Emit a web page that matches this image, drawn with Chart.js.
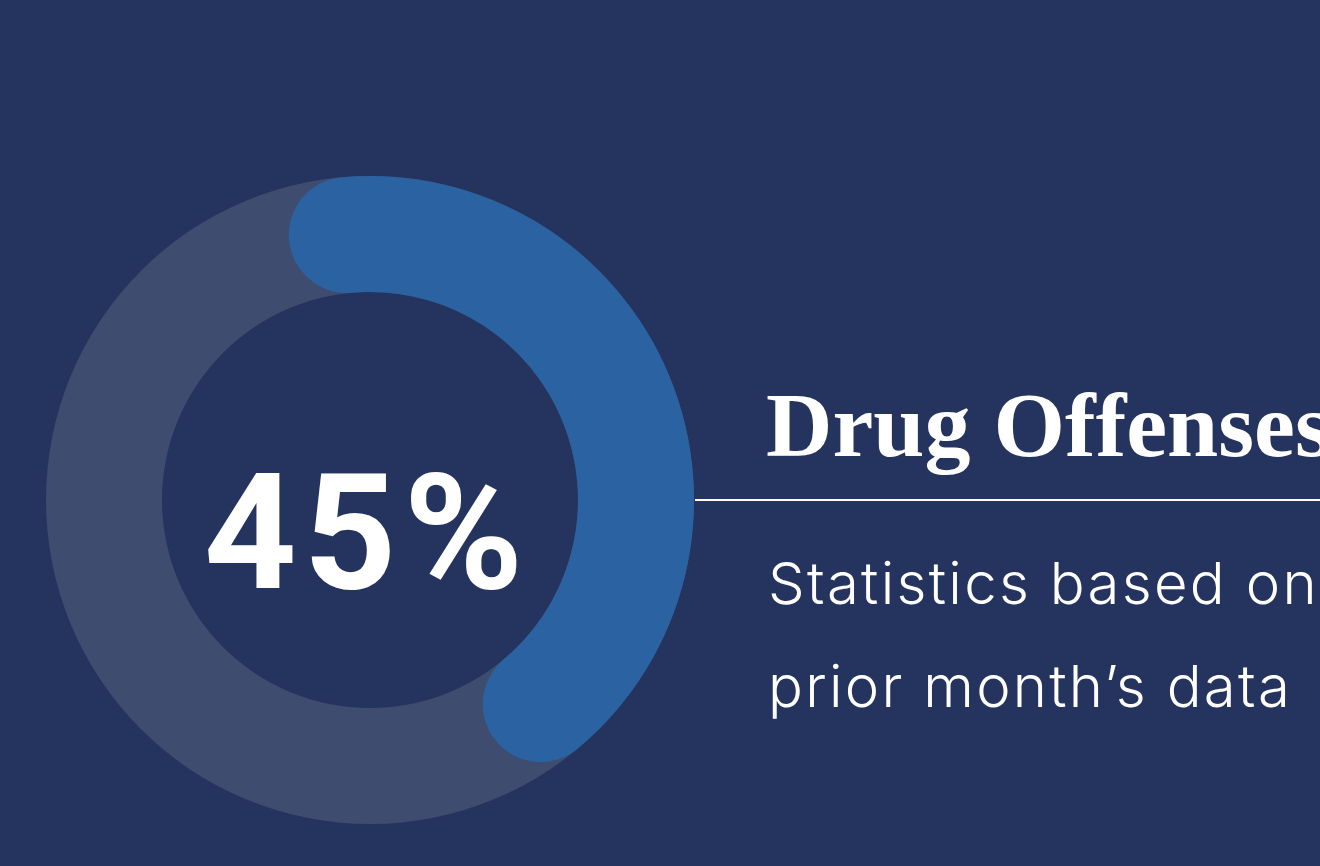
<!DOCTYPE html>
<html>
<head>
<meta charset="utf-8">
<script src="https://cdn.jsdelivr.net/npm/chart.js@4.4.1/dist/chart.umd.min.js"></script>
<style>
  html, body {
    margin: 0;
    padding: 0;
    width: 1320px;
    height: 866px;
    overflow: hidden;
    background: #25345f;
  }
  #ring {
    position: absolute;
    left: 46px;
    top: 176px;
    width: 648px;
    height: 648px;
  }
  #ring canvas {
    position: absolute;
    left: 0;
    top: 0;
  }
  #pct {
    position: absolute;
    left: 46px;
    width: 642px;
    top: 452px;
    text-align: center;
    font-family: "Roboto", sans-serif;
    font-weight: 700;
    font-size: 162px;
    line-height: 162px;
    letter-spacing: 7px;
    color: #fff;
  }
  #title {
    position: absolute;
    left: 766px;
    top: 379px;
    white-space: nowrap;
    font-family: "Liberation Serif", serif;
    font-weight: 700;
    font-size: 92px;
    line-height: 92px;
    color: #fff;
  }
  #rule {
    position: absolute;
    left: 695px;
    top: 499px;
    width: 625px;
    height: 2px;
    background: #fff;
  }
  #sub {
    position: absolute;
    left: 768px;
    top: 532px;
    white-space: nowrap;
    font-family: "Inter", sans-serif;
    font-weight: 300;
    font-size: 58px;
    line-height: 103px;
    letter-spacing: 2.3px;
    color: #fff;
  }
</style>
</head>
<body>
<div id="ring">
  <canvas id="track" width="648" height="648"></canvas>
  <canvas id="value" width="648" height="648"></canvas>
</div>
<div id="pct"></div>
<div id="title"></div>
<div id="rule"></div>
<div id="sub"></div>

<script>
// Chart data
var labels = ['Drug Offenses', 'Other'];
var values = [45, 55];
var trackValues = [100];

var title = 'Drug Offenses';
var subtitle = ['Statistics based on', 'prior month\u2019s data'];

// Colours
var blue = '#2b62a1';
var track = '#3e4c6f';

// Shared options for both rings
function ringOptions(extra) {
	var opts = {
		responsive: false,
		animation: false,
		events: [],
		cutout: '64.2%',
		layout: { padding: 0 },
		plugins: {
			legend: { display: false },
			tooltip: { enabled: false }
		}
	};
	for (var k in extra) opts[k] = extra[k];
	return opts;
}

// Grey background track (full circle)
new Chart(document.getElementById('track'), {
	type: 'doughnut',
	data: {
		labels: ['Total'],
		datasets: [{
			data: trackValues,
			backgroundColor: [track],
			borderWidth: 0
		}]
	},
	options: ringOptions({})
});

// Blue value arc with round ends, the round caps stretch it past 45% of the circle
new Chart(document.getElementById('value'), {
	type: 'doughnut',
	data: {
		labels: labels,
		datasets: [{
			data: values,
			backgroundColor: [blue, 'rgba(0,0,0,0)'],
			borderWidth: 0,
			borderRadius: 58
		}]
	},
	options: ringOptions({
		rotation: -17.5,
		circumference: 378
	})
});

// Texts
document.getElementById('pct').textContent = values[0] + '%';
document.getElementById('title').textContent = title;
document.getElementById('sub').innerHTML = subtitle.join('<br>');
</script>
</body>
</html>
